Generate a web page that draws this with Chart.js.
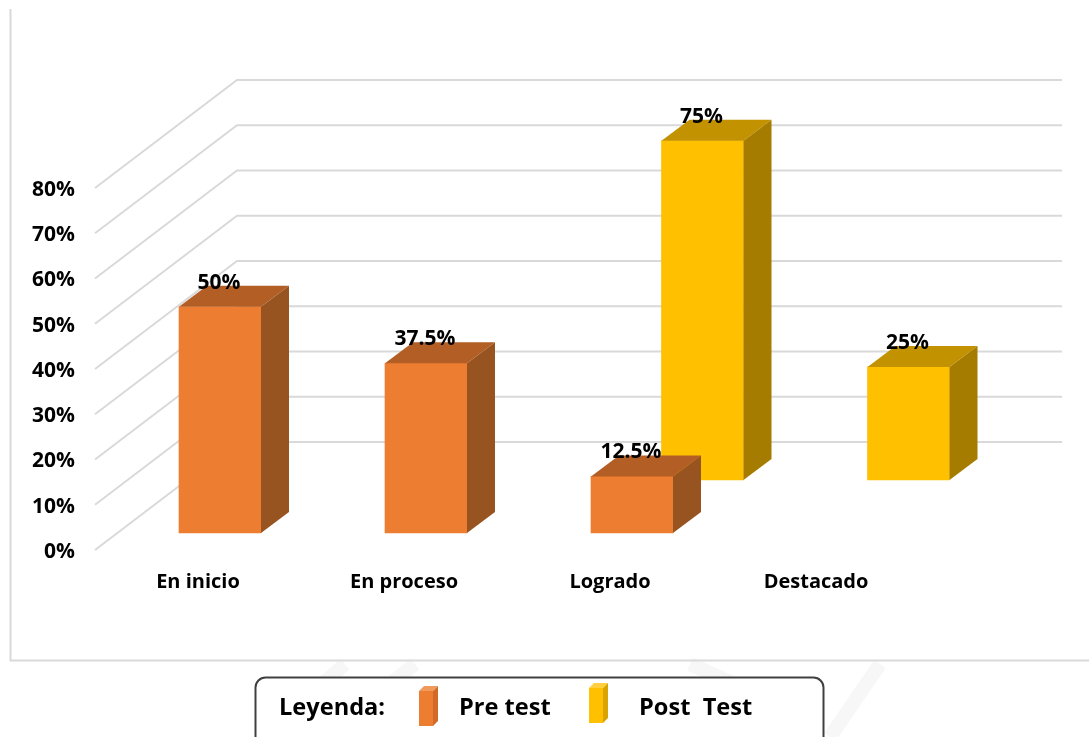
<!DOCTYPE html>
<html lang="es">
<head>
<meta charset="utf-8">
<title>Pre test y Post test</title>
<script src="https://cdn.jsdelivr.net/npm/chart.js@4/dist/chart.umd.min.js"></script>
<style>
html,body{margin:0;padding:0;background:#fff;overflow:hidden}
canvas{display:block;filter:blur(.4px)}
</style>
</head>
<body>
<canvas id="c" width="1089" height="737"></canvas>
<script>
const categories = ['En inicio', 'En proceso', 'Logrado', 'Destacado'];
const preTest = [50, 37.5, 12.5, null];
const postTest = [null, null, 75, 25];
const seriesNames = ['Pre test', 'Post  Test'];
const legendTitle = 'Leyenda:';
const yTickMax = 80;
const yTickStep = 10;

const FONT = '"Open Sans", sans-serif';
const FRONT = ['#ED7D31', '#FFC000'];
const TOP = ['#B35E25', '#C29200'];
const SIDE = ['#985420', '#A67C00'];
const GRID = '#D9D9D9';
const SHIFT = [{x: 22, y: -17}, {x: 92.5, y: -70}];
const BAR_DEPTH = {x: 28, y: -21};
const WALL = {x: 142, y: -108};

function poly(ctx, pts, fill) {
  ctx.beginPath();
  pts.forEach((p, i) => i ? ctx.lineTo(p[0], p[1]) : ctx.moveTo(p[0], p[1]));
  ctx.closePath();
  ctx.fillStyle = fill;
  ctx.fill();
}

const frame3d = {
  id: 'frame3d',
  beforeDraw(chart) {
    const ctx = chart.ctx;
    ctx.save();
    // faint watermark
    ctx.strokeStyle = '#F7F7F7';
    ctx.lineWidth = 14;
    ctx.beginPath();
    ctx.moveTo(262, 737); ctx.lineTo(345, 664);
    ctx.moveTo(415, 664); ctx.lineTo(380, 692);
    ctx.moveTo(690, 664); ctx.lineTo(770, 700);
    ctx.moveTo(830, 737); ctx.lineTo(880, 664);
    ctx.stroke();
    // outer frame
    ctx.strokeStyle = GRID;
    ctx.lineWidth = 2;
    ctx.beginPath();
    ctx.moveTo(10.5, 9); ctx.lineTo(10.5, 660.5); ctx.lineTo(1089, 660.5);
    ctx.stroke();
    ctx.restore();
  },
  beforeDatasetsDraw(chart) {
    const ctx = chart.ctx, y = chart.scales.y, a = chart.chartArea;
    ctx.save();
    ctx.strokeStyle = GRID;
    ctx.lineWidth = 2;
    y.ticks.forEach(t => {
      const py = y.getPixelForValue(t.value);
      ctx.beginPath();
      ctx.moveTo(a.left, py);
      ctx.lineTo(a.left + WALL.x, py + WALL.y);
      ctx.lineTo(a.right + WALL.x + 1, py + WALL.y);
      ctx.stroke();
    });
    ctx.restore();
  },
  beforeDatasetDraw(chart, args) {
    const s = SHIFT[args.index];
    chart.ctx.save();
    chart.ctx.translate(s.x, s.y);
  },
  afterDatasetDraw(chart, args) {
    const ctx = chart.ctx, i = args.index;
    const values = chart.data.datasets[i].data;
    args.meta.data.forEach((b, k) => {
      if (values[k] == null) return;
      const l = b.x - b.width / 2, r = b.x + b.width / 2, t = b.y, bt = b.base;
      const d = BAR_DEPTH;
      poly(ctx, [[l, t], [r, t], [r + d.x, t + d.y], [l + d.x, t + d.y]], TOP[i]);
      poly(ctx, [[r, t], [r + d.x, t + d.y], [r + d.x, bt + d.y], [r, bt]], SIDE[i]);
    });
    ctx.restore();
  },
  afterDatasetsDraw(chart) {
    const ctx = chart.ctx;
    ctx.save();
    ctx.font = `700 21px ${FONT}`;
    ctx.fillStyle = '#000';
    ctx.textAlign = 'center';
    ctx.textBaseline = 'middle';
    chart.data.datasets.forEach((ds, i) => {
      chart.getDatasetMeta(i).data.forEach((b, k) => {
        if (ds.data[k] == null) return;
        ctx.fillText(ds.data[k] + '%', b.x + SHIFT[i].x - 1, b.y + SHIFT[i].y - 24);
      });
    });
    ctx.restore();
  },
  afterDraw(chart) {
    const ctx = chart.ctx;
    ctx.save();
    // legend box
    ctx.beginPath();
    ctx.roundRect(255.5, 677.5, 568, 80, 10);
    ctx.fillStyle = '#fff';
    ctx.fill();
    ctx.strokeStyle = '#404040';
    ctx.lineWidth = 2;
    ctx.stroke();
    ctx.fillStyle = '#000';
    ctx.font = `700 23.6px ${FONT}`;
    ctx.textBaseline = 'middle';
    ctx.textAlign = 'left';
    ctx.fillText(legendTitle, 279, 708);
    const swatches = [{x: 419, y: 691, text: 459}, {x: 589, y: 688, text: 639}];
    swatches.forEach((s, i) => {
      const w = 14, h = 35, dx = 5, dy = -5;
      ctx.fillStyle = FRONT[i];
      ctx.fillRect(s.x, s.y, w, h);
      poly(ctx, [[s.x, s.y], [s.x + w, s.y], [s.x + w + dx, s.y + dy], [s.x + dx, s.y + dy]], i ? '#FFCF40' : '#F09A5C');
      poly(ctx, [[s.x + w, s.y], [s.x + w + dx, s.y + dy], [s.x + w + dx, s.y + h + dy], [s.x + w, s.y + h]], i ? '#D9A300' : '#D26A28');
      ctx.fillStyle = '#000';
      ctx.fillText(seriesNames[i], s.text, 708);
    });
    ctx.restore();
  }
};

new Chart(document.getElementById('c'), {
  type: 'bar',
  data: {
    labels: categories,
    datasets: [
      {label: seriesNames[0], data: preTest, backgroundColor: FRONT[0], grouped: false, barThickness: 82, clip: false},
      {label: seriesNames[1], data: postTest, backgroundColor: FRONT[1], grouped: false, barThickness: 82, clip: false}
    ]
  },
  plugins: [frame3d],
  options: {
    responsive: false,
    animation: false,
    events: [],
    layout: {padding: {left: 10, right: 170, top: 188, bottom: 0}},
    plugins: {legend: {display: false}, tooltip: {enabled: false}, title: {display: false}},
    scales: {
      x: {
        afterFit: s => { s.height = 187; },
        grid: {display: false, drawTicks: false},
        border: {display: false},
        ticks: {color: '#000', padding: 20, font: {family: FONT, size: 20, weight: '700'}, maxRotation: 0}
      },
      y: {
        min: 0,
        max: yTickMax,
        afterFit: s => { s.width = 85; },
        grid: {display: false, drawTicks: false},
        border: {display: false},
        ticks: {
          stepSize: yTickStep,
          color: '#000',
          padding: 20,
          labelOffset: 2,
          font: {family: FONT, size: 21, weight: '700'},
          callback: v => v + '%'
        }
      }
    }
  }
});
</script>
</body>
</html>
